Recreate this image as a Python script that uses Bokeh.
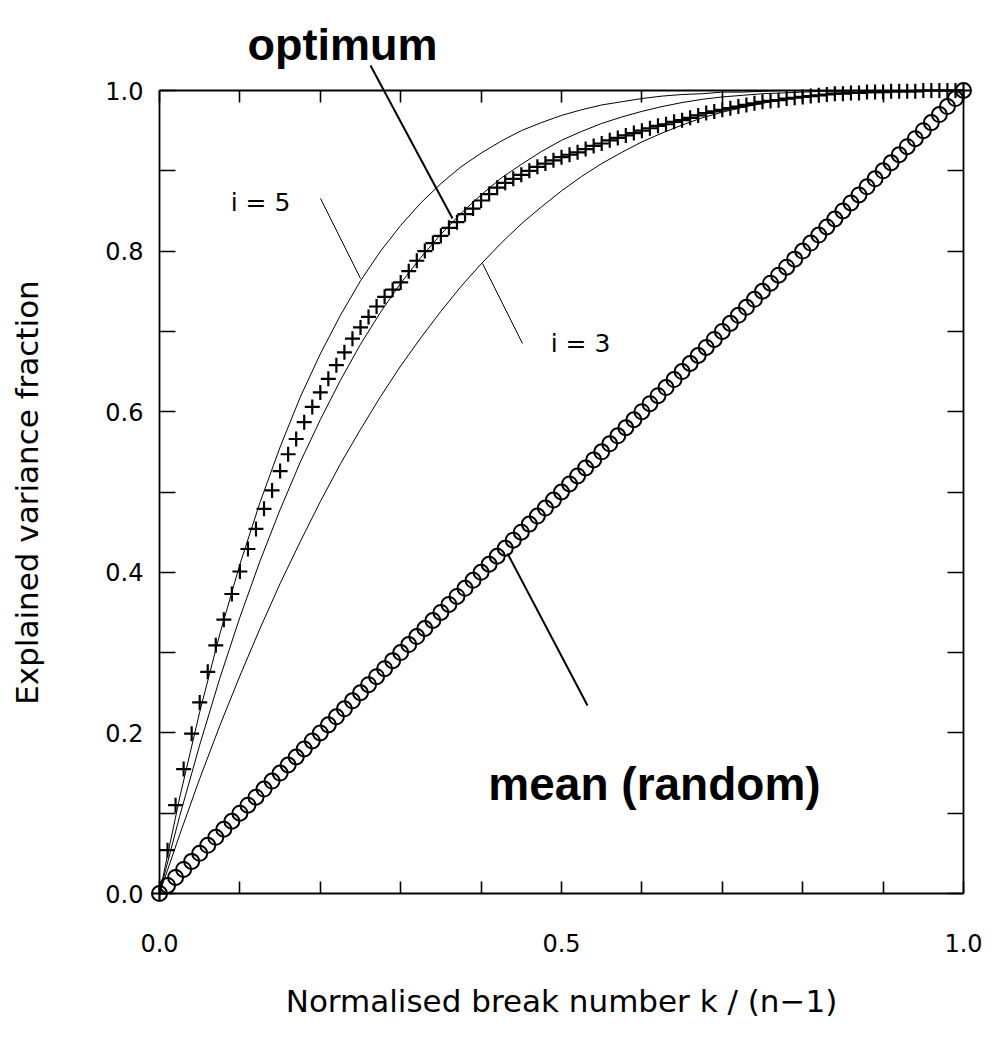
from bokeh.plotting import figure
from bokeh.models import Range1d, LinearAxis, FixedTicker, Label, Arrow
from bokeh.embed import file_html
from bokeh.resources import INLINE

# ---------------- data ----------------
n_minus_1 = 100
break_number = list(range(101))
break_frac = [k / n_minus_1 for k in break_number]

optimum = [
    0.000, 0.054, 0.110, 0.155, 0.199, 0.238, 0.276, 0.309, 0.341, 0.373,
    0.401, 0.429, 0.454, 0.479, 0.502, 0.526, 0.547, 0.566, 0.587, 0.606,
    0.624, 0.641, 0.658, 0.674, 0.691, 0.705, 0.718, 0.731, 0.743, 0.752,
    0.761, 0.775, 0.788, 0.800, 0.810, 0.819, 0.829, 0.836, 0.846, 0.853,
    0.863, 0.871, 0.879, 0.885, 0.890, 0.895, 0.900, 0.905, 0.909, 0.913,
    0.917, 0.920, 0.923, 0.927, 0.931, 0.934, 0.938, 0.941, 0.944, 0.947,
    0.950, 0.953, 0.956, 0.958, 0.961, 0.963, 0.966, 0.969, 0.972, 0.974,
    0.976, 0.978, 0.980, 0.982, 0.984, 0.986, 0.987, 0.988, 0.990, 0.991,
    0.992, 0.993, 0.994, 0.995, 0.996, 0.996, 0.997, 0.997, 0.998, 0.998,
    0.998, 0.999, 0.999, 0.999, 0.999, 1.000, 1.000, 1.000, 1.000, 1.000,
    1.000,
]

mean_random = [
    0.00, 0.01, 0.02, 0.03, 0.04, 0.05, 0.06, 0.07, 0.08, 0.09,
    0.10, 0.11, 0.12, 0.13, 0.14, 0.15, 0.16, 0.17, 0.18, 0.19,
    0.20, 0.21, 0.22, 0.23, 0.24, 0.25, 0.26, 0.27, 0.28, 0.29,
    0.30, 0.31, 0.32, 0.33, 0.34, 0.35, 0.36, 0.37, 0.38, 0.39,
    0.40, 0.41, 0.42, 0.43, 0.44, 0.45, 0.46, 0.47, 0.48, 0.49,
    0.50, 0.51, 0.52, 0.53, 0.54, 0.55, 0.56, 0.57, 0.58, 0.59,
    0.60, 0.61, 0.62, 0.63, 0.64, 0.65, 0.66, 0.67, 0.68, 0.69,
    0.70, 0.71, 0.72, 0.73, 0.74, 0.75, 0.76, 0.77, 0.78, 0.79,
    0.80, 0.81, 0.82, 0.83, 0.84, 0.85, 0.86, 0.87, 0.88, 0.89,
    0.90, 0.91, 0.92, 0.93, 0.94, 0.95, 0.96, 0.97, 0.98, 0.99,
    1.00,
]

curve_x = [
    0.000, 0.025, 0.050, 0.075, 0.100, 0.125, 0.150, 0.175, 0.200, 0.225,
    0.250, 0.275, 0.300, 0.325, 0.350, 0.375, 0.400, 0.425, 0.450, 0.475,
    0.500, 0.525, 0.550, 0.575, 0.600, 0.625, 0.650, 0.675, 0.700, 0.725,
    0.750, 0.775, 0.800, 0.825, 0.850, 0.875, 0.900, 0.925, 0.950, 0.975,
    1.000,
]
curve_i3 = [
    0.000, 0.073, 0.143, 0.209, 0.271, 0.330, 0.386, 0.438, 0.488, 0.535,
    0.578, 0.619, 0.657, 0.692, 0.725, 0.756, 0.784, 0.810, 0.834, 0.855,
    0.875, 0.893, 0.909, 0.923, 0.936, 0.947, 0.957, 0.966, 0.973, 0.979,
    0.984, 0.989, 0.992, 0.995, 0.997, 0.998, 0.999, 1.000, 1.000, 1.000,
    1.000,
]
curve_i4 = [
    0.000, 0.096, 0.185, 0.268, 0.344, 0.414, 0.478, 0.537, 0.590, 0.639,
    0.684, 0.724, 0.760, 0.792, 0.821, 0.847, 0.870, 0.891, 0.908, 0.924,
    0.938, 0.949, 0.959, 0.967, 0.974, 0.980, 0.985, 0.989, 0.992, 0.994,
    0.996, 0.997, 0.998, 0.999, 0.999, 1.000, 1.000, 1.000, 1.000, 1.000,
    1.000,
]
curve_i5 = [
    0.000, 0.119, 0.226, 0.323, 0.410, 0.487, 0.556, 0.618, 0.672, 0.720,
    0.763, 0.800, 0.832, 0.860, 0.884, 0.905, 0.922, 0.937, 0.950, 0.960,
    0.969, 0.976, 0.982, 0.986, 0.990, 0.993, 0.995, 0.996, 0.998, 0.998,
    0.999, 1.000, 1.000, 1.000, 1.000, 1.000, 1.000, 1.000, 1.000, 1.000,
    1.000,
]

x_ticks = [0.0, 0.5, 1.0]
x_tick_labels = ["0.0", "0.5", "1.0"]
x_minor = [0.1, 0.2, 0.3, 0.4, 0.6, 0.7, 0.8, 0.9]
y_ticks = [0.0, 0.2, 0.4, 0.6, 0.8, 1.0]
y_tick_labels = ["0.0", "0.2", "0.4", "0.6", "0.8", "1.0"]
y_minor = [0.1, 0.3, 0.5, 0.7, 0.9]

x_title = "Normalised break number k / (n\u22121)"
y_title = "Explained variance fraction"

# ---------------- layout constants (pixels) ----------------
W, H = 995, 1046
BOX_L, BOX_R, BOX_T, BOX_B = 159, 963, 90, 893
sx = BOX_R - BOX_L          # pixels per data unit (x)
sy = BOX_B - BOX_T          # pixels per data unit (y)


def dx(px):
    return (px - BOX_L) / sx


def dy(py):
    return (BOX_B - py) / sy


FONT = "DejaVu Sans"

# The frame covers the whole canvas; the axes sit at fixed data locations
# so that every annotation can be placed freely.
p = figure(
    width=W, height=H,
    x_range=Range1d(dx(0), dx(W)), y_range=Range1d(dy(H), dy(0)),
    x_axis_type=None, y_axis_type=None,
    output_backend="svg", toolbar_location=None,
    min_border=0,
)
p.grid.visible = False
p.outline_line_color = None
p.background_fill_color = "white"
p.border_fill_color = "white"

bottom_ax = LinearAxis(fixed_location=0, bounds=(0, 1),
                       ticker=FixedTicker(ticks=x_ticks, minor_ticks=x_minor))
bottom_ax.major_label_overrides = dict(zip(x_ticks, x_tick_labels))
left_ax = LinearAxis(fixed_location=0, bounds=(0, 1),
                     ticker=FixedTicker(ticks=y_ticks, minor_ticks=y_minor))
left_ax.major_label_overrides = dict(zip(y_ticks, y_tick_labels))
top_ax = LinearAxis(fixed_location=1, bounds=(0, 1),
                    ticker=FixedTicker(ticks=x_ticks, minor_ticks=x_minor))
right_ax = LinearAxis(fixed_location=1, bounds=(0, 1),
                      ticker=FixedTicker(ticks=y_ticks, minor_ticks=y_minor))
p.add_layout(bottom_ax, "below")
p.add_layout(left_ax, "left")
p.add_layout(top_ax, "above")
p.add_layout(right_ax, "right")

for ax, tl in ((bottom_ax, 12), (top_ax, 12), (left_ax, 16), (right_ax, 16)):
    ax.axis_line_color = "black"
    ax.axis_line_width = 1.8
    ax.major_tick_in = tl
    ax.major_tick_out = 0
    ax.minor_tick_in = tl
    ax.minor_tick_out = 0
    ax.major_tick_line_width = 1.6
    ax.minor_tick_line_width = 1.6
    ax.major_tick_line_color = "black"
    ax.minor_tick_line_color = "black"

for ax in (top_ax, right_ax):
    ax.major_label_text_color = None
    ax.major_label_text_font_size = "0px"
    ax.major_label_standoff = 0

for ax, so in ((bottom_ax, 40), (left_ax, 16)):
    ax.major_label_text_font = FONT
    ax.major_label_text_font_size = "24px"
    ax.major_label_text_color = "black"
    ax.major_label_standoff = so

# ---------------- data marks ----------------
for cy in (curve_i5, curve_i4, curve_i3):
    p.line(curve_x, cy, line_color="black", line_width=1)

p.scatter(break_frac, mean_random, marker="circle", size=15,
          fill_color=None, line_color="black", line_width=2)
p.scatter(break_frac, optimum, marker="cross", size=15,
          line_color="black", line_width=2.2)

# ---------------- annotations ----------------
def leader(x0, y0, x1, y1, w):
    p.add_layout(Arrow(end=None, x_start=dx(x0), y_start=dy(y0),
                       x_end=dx(x1), y_end=dy(y1),
                       line_color="black", line_width=w))


leader(370, 65, 452, 218, 2)      # optimum
leader(507, 553, 587, 705, 2)     # mean (random)
leader(320, 198, 360, 278, 1)     # i = 5
leader(482, 263, 522, 343, 1)     # i = 3


def label(px, py, text, size, font=FONT, bold=False, align="center",
          baseline="middle", angle=0):
    p.add_layout(Label(x=dx(px), y=dy(py), text=text, text_font=font,
                       text_font_style="bold" if bold else "normal",
                       text_font_size=size, text_align=align,
                       text_baseline=baseline, angle=angle,
                       angle_units="deg", text_color="black"))


label(342, 44, "optimum", "45px", font="Liberation Sans", bold=True,
      baseline="alphabetic")
label(654, 783, "mean (random)", "46px", font="Liberation Sans", bold=True,
      baseline="alphabetic")
label(260, 202, "i = 5", "25px")
label(580, 343, "i = 3", "25px")
label(26, 492, y_title, "31px", angle=90)
label(561, 1000, x_title, "31px")

open("out.html", "w").write(file_html(p, INLINE))
